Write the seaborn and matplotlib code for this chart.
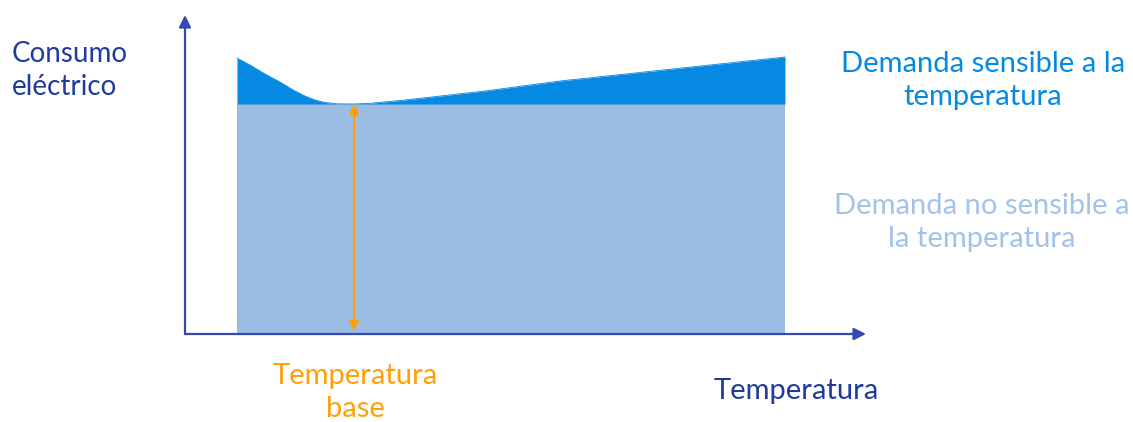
import numpy as np
import pandas as pd
import seaborn as sns
import matplotlib.pyplot as plt

# temperatura (unidades arbitrarias) y consumo eléctrico
temp = [5.2, 6.5, 8.0, 9.5, 11.0, 12.0, 13.0, 14.0, 15.2, 16.9,
        18.5, 21.5, 23.5, 30.0, 37.5, 45.0, 52.5, 60.0]
consumo = [27.6, 26.9, 26.0, 25.2, 24.3, 23.8, 23.4, 23.15, 23.02, 23.0,
           23.07, 23.35, 23.57, 24.3, 25.3, 26.1, 26.9, 27.7]
carga_base = 23.0
temp_base = 16.9

df = pd.DataFrame({'temp': temp, 'consumo': consumo})

navy = '#1F3C9C'
axis_col = '#3549AE'
dark_blue = '#0589E2'
light_blue = '#9BBDE3'
orange = '#FF9F0A'

sns.set_theme(style='white')
plt.rcParams['font.family'] = ['Lato', 'DejaVu Sans']

W, H = 1133, 422
fig = plt.figure(figsize=(W / 100, H / 100), dpi=100)
ax = fig.add_axes([185 / W, (H - 334) / H, (866 - 185) / W, (334 - 15) / H])
ax.set_xlim(0, 68.1)
ax.set_ylim(0, 31.9)
ax.axis('off')

# areas
ax.fill_between(df['temp'], 0, carga_base, color=light_blue, linewidth=0)
ax.fill_between(df['temp'], carga_base, df['consumo'], color=dark_blue, linewidth=0)
sns.lineplot(data=df, x='temp', y='consumo', color=dark_blue, linewidth=0.6, ax=ax)

# ejes con flechas
arrow_kw = dict(arrowstyle='-|>', color=axis_col, lw=1.6, mutation_scale=18, shrinkA=0, shrinkB=0)
ax.annotate('', xy=(0, 1), xytext=(0, 0), xycoords='axes fraction', arrowprops=arrow_kw)
ax.annotate('', xy=(1, 0), xytext=(0, 0), xycoords='axes fraction', arrowprops=arrow_kw)

# flecha de temperatura base
ax.annotate('', xy=(temp_base, carga_base), xytext=(temp_base, 0.3),
            arrowprops=dict(arrowstyle='<|-|>', color=orange, lw=1.5, mutation_scale=14,
                            shrinkA=0, shrinkB=0))


def ftext(x, y, s, color, ha='center', size=21):
    fig.text(x / W, 1 - y / H, s, color=color, ha=ha, va='top', fontsize=size,
             linespacing=1.35)


ftext(12, 41, 'Consumo\neléctrico', navy, ha='left', size=20)
ftext(983, 51, 'Demanda sensible a la\ntemperatura', dark_blue)
ftext(982, 193, 'Demanda no sensible a\nla temperatura', '#A2C3E9')
ftext(355, 363, 'Temperatura\nbase', orange)
ftext(796, 378, 'Temperatura', navy)

fig.savefig('out.png', dpi=100)
